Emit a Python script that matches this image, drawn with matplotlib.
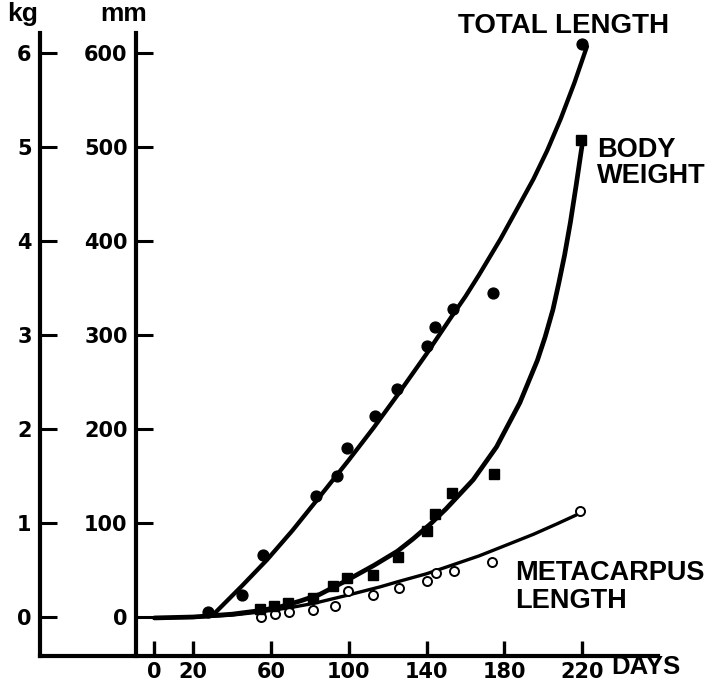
import matplotlib
matplotlib.use("Agg")
import matplotlib.pyplot as plt

# ---------------- data ----------------
day_ticks = [0, 20, 60, 100, 140, 180, 220]
mm_ticks = [0, 100, 200, 300, 400, 500, 600]
kg_ticks = [0, 1, 2, 3, 4, 5, 6]

# Total length (mm), filled circles
tl_days = [27.7, 45.3, 56, 83.1, 93.8, 98.9, 113.5, 125, 140, 144.5, 153.4, 174, 220]
tl_mm = [5.8, 23, 66, 128.7, 150, 179.5, 214, 242.5, 288.6, 308.8, 327.3, 345, 610]
# Total length fitted curve
tlc_days = [31, 45, 58, 71, 85, 100, 113, 125, 140, 153, 160, 167, 178, 186, 195,
            202, 209, 216, 222.5]
tlc_mm = [4, 33, 61, 92, 128, 167, 202, 236, 280, 320, 341, 364, 402, 432, 466,
          496, 530, 568, 607]

# Body weight (kg), filled squares
bw_days = [54.3, 61.7, 68.9, 81.7, 92, 99, 112.6, 125.4, 140, 144.3, 153, 174.7, 219.5]
bw_kg = [0.08, 0.12, 0.15, 0.20, 0.33, 0.41, 0.45, 0.64, 0.92, 1.10, 1.32, 1.52, 5.07]
# Body weight fitted curve
bwc_days = [0, 20, 40, 55, 65, 75, 85, 99, 113, 125, 133, 142, 150, 164, 176, 188,
            197, 201, 205, 208, 211, 214, 217, 219, 220.3]
bwc_kg = [-0.01, 0.0, 0.03, 0.07, 0.11, 0.17, 0.24, 0.39, 0.55, 0.70, 0.83, 0.99,
          1.15, 1.46, 1.81, 2.28, 2.73, 2.98, 3.27, 3.55, 3.85, 4.20, 4.60, 4.88, 5.06]

# Metacarpus length (mm), open circles
mc_days = [54.8, 62, 69, 81.4, 92.9, 99.8, 112.6, 125.8, 140.4, 145, 154, 173.5, 219]
mc_mm = [0.5, 3.2, 5.7, 7.4, 11.7, 28, 23.4, 30.5, 38.6, 47, 49, 58.8, 113]
# Metacarpus fitted curve
mcc_days = [0, 20, 40, 55, 70, 82, 99, 116, 126, 140, 150, 167, 178, 195, 207, 217]
mcc_mm = [-1, -0.5, 2, 5.5, 10, 14.5, 23, 32, 38, 46, 53, 65, 74, 88, 99, 108.5]

# ---------------- figure ----------------
W, H = 712, 684
fig = plt.figure(figsize=(W / 100, H / 100), dpi=100)

# axes box in pixels: left 40, right 658, top 33, bottom 656
ax = fig.add_axes([40 / W, (H - 656) / H, 618 / W, 623 / H])
ax.set_xlim(-58.85, 259.05)
ax.set_ylim(-41.5, 621.3)

ax2 = ax.twinx()
ax2.set_ylim(-0.415, 6.213)

spine_w = 3.0
tick_font = dict(family="DejaVu Sans", weight="bold", size=15)
label_font = dict(family="Liberation Sans", weight="bold")

for s in ["top", "right"]:
    ax.spines[s].set_visible(False)
    ax2.spines[s].set_visible(False)
ax2.spines["bottom"].set_visible(False)
ax.spines["left"].set_position(("data", -9.47))
ax.spines["left"].set_linewidth(spine_w)
ax.spines["bottom"].set_linewidth(spine_w)
ax2.spines["left"].set_visible(True)
ax2.spines["left"].set_position(("axes", 0))
ax2.spines["left"].set_linewidth(spine_w)
ax2.yaxis.tick_left()

ax.set_xticks(day_ticks)
ax.set_xticklabels([str(d) for d in day_ticks], **tick_font)
ax.tick_params(axis="x", direction="in", length=11, width=2.4, pad=4)

ax.set_yticks(mm_ticks)
ax.set_yticklabels([str(v) for v in mm_ticks], **tick_font)
ax.tick_params(axis="y", direction="in", length=12, width=2.2, pad=6)

ax2.set_yticks(kg_ticks)
ax2.set_yticklabels([str(v) for v in kg_ticks], **tick_font)
ax2.tick_params(axis="y", direction="in", length=12, width=2.2, pad=6,
                left=True, right=False, labelleft=True, labelright=False)

# ---------------- curves and points ----------------
ax.plot(tlc_days, tlc_mm, color="black", lw=3.1, solid_capstyle="round",
        solid_joinstyle="round", zorder=3)
ax.plot(mcc_days, mcc_mm, color="black", lw=2.4, solid_capstyle="round",
        solid_joinstyle="round", zorder=3)
ax2.plot(bwc_days, bwc_kg, color="black", lw=3.4, solid_capstyle="round",
         solid_joinstyle="round", zorder=3)

ax.plot(tl_days, tl_mm, "o", color="black", ms=7.8, zorder=4, clip_on=False)
ax.plot(mc_days, mc_mm, "o", mfc="white", mec="black", mew=1.4, ms=6.5, zorder=5,
        clip_on=False)
ax2.plot(bw_days, bw_kg, "s", color="black", ms=6.5, zorder=4, clip_on=False)

# ---------------- text labels ----------------
ax.text(156, 621.5, "TOTAL LENGTH", fontsize=20, ha="left", va="baseline",
        clip_on=False, **label_font)
ax.text(227.7, 489, "BODY", fontsize=19.5, ha="left", va="baseline",
        clip_on=False, **label_font)
ax.text(227.7, 462, "WEIGHT", fontsize=19.5, ha="left", va="baseline",
        clip_on=False, **label_font)
ax.text(185.5, 39.4, "METACARPUS", fontsize=19.5, ha="left", va="baseline",
        clip_on=False, **label_font)
ax.text(185.5, 9.6, "LENGTH", fontsize=19.5, ha="left", va="baseline",
        clip_on=False, **label_font)
ax.text(235.2, -60.6, "DAYS", fontsize=18.5, ha="left", va="baseline",
        clip_on=False, **label_font)
ax.text(-67.6, 634, "kg", fontsize=19, ha="center", va="baseline",
        clip_on=False, **label_font)
ax.text(-15.9, 634, "mm", fontsize=19, ha="center", va="baseline",
        clip_on=False, **label_font)

fig.savefig("out.png", dpi=100)
